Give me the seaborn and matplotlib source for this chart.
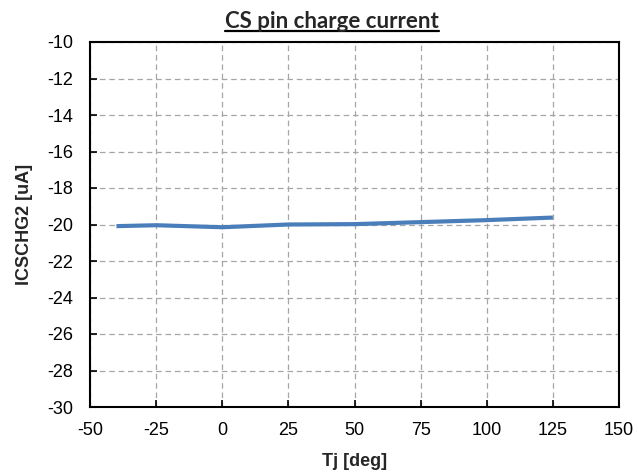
import matplotlib
matplotlib.use("Agg")
import matplotlib.pyplot as plt
import seaborn as sns
import pandas as pd
from matplotlib import font_manager

# Junction temperature sweep and measured CS pin charge current
tj_deg = [-40, -25, 0, 25, 50, 75, 100, 125]
icschg2_ua = [-20.09, -20.04, -20.15, -20.0, -19.98, -19.87, -19.76, -19.62]

x_ticks = [-50, -25, 0, 25, 50, 75, 100, 125, 150]
y_ticks = [-30, -28, -26, -24, -22, -20, -18, -16, -14, -12, -10]

df = pd.DataFrame({"Tj": tj_deg, "I": icschg2_ua})

sns.set_theme(style="white")
plt.rcParams["font.family"] = ["Liberation Sans", "DejaVu Sans"]

bold_font = font_manager.FontProperties(family="Liberation Sans", weight="bold", size=13)

fig = plt.figure(figsize=(6.38, 4.75), dpi=100)
ax = fig.add_axes([90 / 638, 1 - 407 / 475, 529 / 638, 365 / 475])

sns.lineplot(data=df, x="Tj", y="I", ax=ax, color="#4A7EBB", linewidth=3.0,
             solid_capstyle="butt", zorder=3)

ax.set_xlim(-50, 150)
ax.set_ylim(-30, -10)
ax.set_xticks(x_ticks)
ax.set_yticks(y_ticks)
ax.set_xticklabels([str(v) for v in x_ticks], fontsize=13)
ax.set_yticklabels([str(v) for v in y_ticks], fontsize=13)

ax.grid(True, color="#A6A6A6", linestyle=(0, (4.5, 3)), linewidth=0.9, zorder=0)
ax.tick_params(direction="in", length=5, width=1.2, color="black",
               bottom=True, left=True, labelcolor="black")
ax.tick_params(axis="x", pad=11)
ax.tick_params(axis="y", pad=12)
for s in ax.spines.values():
    s.set_color("black")
    s.set_linewidth(1.5)
    s.set_visible(True)

ax.set_xlabel("Tj [deg]", fontproperties=bold_font, labelpad=10)
ax.set_ylabel("ICSCHG2 [uA]", fontproperties=bold_font, labelpad=10)

fig.text(0.52, 1 - 22 / 475, "CS pin charge current",
         ha="center", va="center", fontsize=16, fontweight="bold",
         family=["Lato", "DejaVu Sans"])
# underline under the title
title_txt = fig.texts[-1]
fig.canvas.draw()
bb = title_txt.get_window_extent()
inv = fig.transFigure.inverted()
(x0, y0), (x1, y1) = inv.transform([(bb.x0, bb.y0), (bb.x1, bb.y1)])
fig.add_artist(plt.Line2D([x0, x1], [y0 + 0.004, y0 + 0.004],
                          transform=fig.transFigure, color="black", linewidth=1.6))

fig.savefig("out.png", dpi=100)
